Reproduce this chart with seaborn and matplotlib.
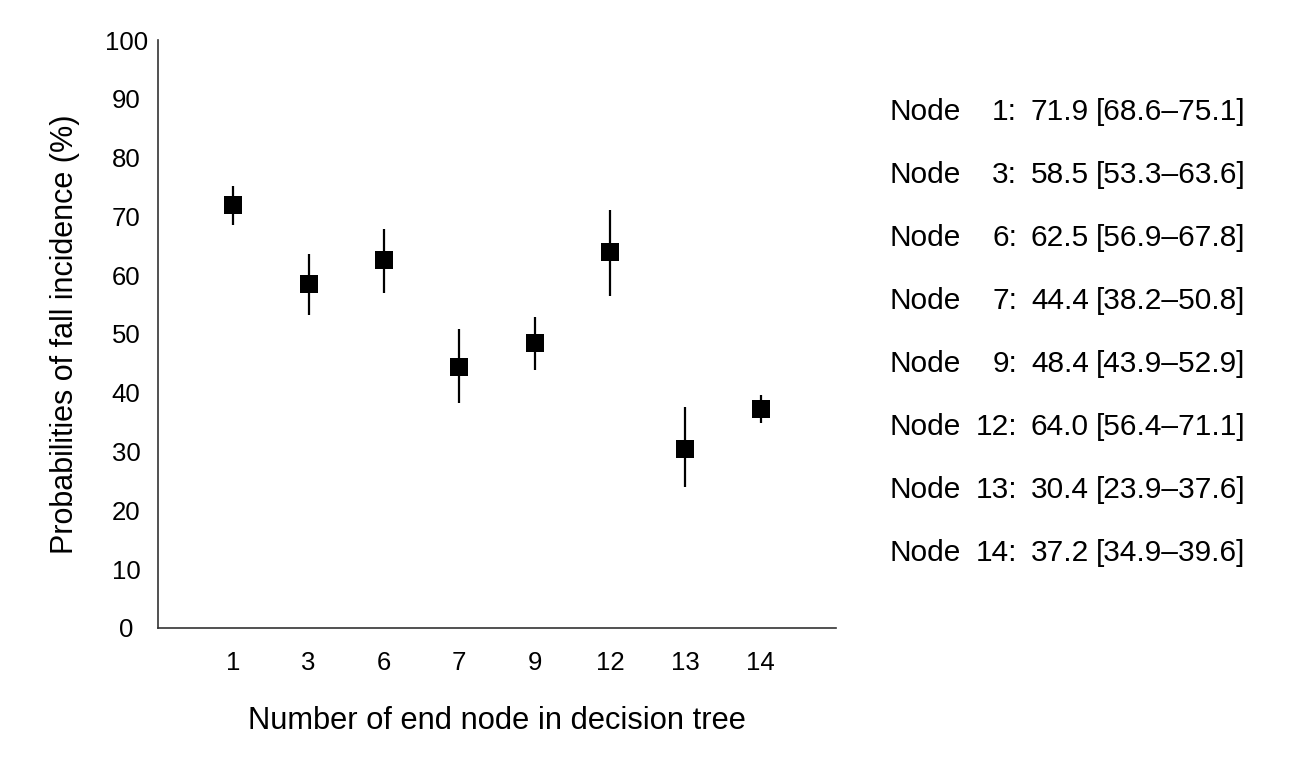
import matplotlib
matplotlib.use("Agg")
import matplotlib.pyplot as plt
import seaborn as sns
import pandas as pd

# end nodes of the decision tree and their fall probabilities [95% CI]
nodes = ["1", "3", "6", "7", "9", "12", "13", "14"]
prob = [71.9, 58.5, 62.5, 44.4, 48.4, 64.0, 30.4, 37.2]
ci_low = [68.6, 53.3, 56.9, 38.2, 43.9, 56.4, 23.9, 34.9]
ci_high = [75.1, 63.6, 67.8, 50.8, 52.9, 71.1, 37.6, 39.6]

df = pd.DataFrame({"node": nodes, "prob": prob, "low": ci_low, "high": ci_high})

sns.set_style("white")
plt.rcParams["font.family"] = ["Liberation Sans", "DejaVu Sans"]
plt.rcParams["text.color"] = "black"
plt.rcParams["axes.labelcolor"] = "black"
plt.rcParams["xtick.color"] = "black"
plt.rcParams["ytick.color"] = "black"

fig = plt.figure(figsize=(12.9, 7.62), dpi=100)
ax = fig.add_axes([0.1225, 0.176, 0.5255, 0.7715])

# confidence intervals as plain vertical lines, no caps
ax.vlines(range(len(df)), df["low"], df["high"], color="black", linewidth=1.6, zorder=2)
sns.scatterplot(data=df, x="node", y="prob", marker="s", s=185, color="black",
                edgecolor="black", linewidth=0, ax=ax, zorder=3)

ax.set_xlim(-1, 8)
ax.set_ylim(0, 100)
ax.set_yticks(range(0, 101, 10))
ax.tick_params(axis="both", length=0, labelsize=18.5)
ax.tick_params(axis="y", pad=23)
ax.tick_params(axis="x", pad=17)
# y tick labels are centred under each other, not right aligned
for lab in ax.get_yticklabels():
    lab.set_horizontalalignment("center")
ax.set_xlabel("Number of end node in decision tree", fontsize=22.2, labelpad=22)
ax.set_ylabel("Probabilities of fall incidence (%)", fontsize=22)
ax.yaxis.set_label_coords(-0.115, 0.5)
sns.despine(ax=ax)
for side in ["left", "bottom"]:
    ax.spines[side].set_color("#333333")
    ax.spines[side].set_linewidth(1.2)

# summary table on the right
y0, dy = 1 - 112 / 762, 63 / 762
for i, n in enumerate(nodes):
    y = y0 - i * dy
    fig.text(889 / 1290, y, "Node", fontsize=21.5, va="center", ha="left")
    fig.text(1017 / 1290, y, f"{n}:", fontsize=21.5, va="center", ha="right")
    fig.text(1031 / 1290, y, f"{prob[i]:.1f}", fontsize=21.5, va="center", ha="left")
    fig.text(1096 / 1290, y, f"[{ci_low[i]:.1f}\u2013{ci_high[i]:.1f}]",
             fontsize=21.5, va="center", ha="left")

plt.savefig("out.png", dpi=100)
